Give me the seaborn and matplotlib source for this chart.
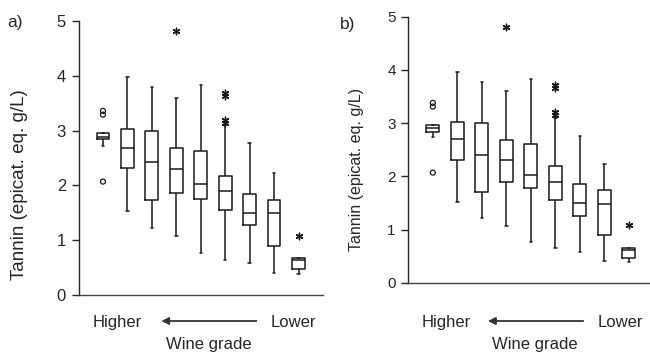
import numpy as np
import pandas as pd
import matplotlib
matplotlib.use('Agg')
import matplotlib.pyplot as plt
import seaborn as sns

# ==========================================
# DATA
# ==========================================
grades = [1, 2, 3, 4, 5, 6, 7, 8, 9]   # 1 = higher grade ... 9 = lower grade

# panel a) five-number summaries
a_low  = [2.72, 1.53, 1.22, 1.07, 0.77, 0.64, 0.59, 0.41, 0.39]
a_q1   = [2.84, 2.31, 1.73, 1.87, 1.76, 1.56, 1.27, 0.90, 0.48]
a_med  = [2.88, 2.69, 2.42, 2.30, 2.02, 1.89, 1.50, 1.49, 0.64]
a_q3   = [2.96, 3.03, 2.99, 2.69, 2.62, 2.18, 1.85, 1.73, 0.67]
a_high = [2.96, 3.97, 3.79, 3.59, 3.84, 3.10, 2.78, 2.23, 0.67]
a_circ_grade = [1, 1, 1]
a_circ_val   = [3.29, 3.36, 2.07]
a_star_grade = [4, 6, 6, 6, 6, 9]
a_star_val   = [4.81, 3.14, 3.19, 3.64, 3.69, 1.08]

# panel b) five-number summaries
b_low  = [2.73, 1.51, 1.21, 1.07, 0.76, 0.65, 0.58, 0.40, 0.38]
b_q1   = [2.84, 2.31, 1.71, 1.89, 1.78, 1.55, 1.26, 0.90, 0.46]
b_med  = [2.90, 2.70, 2.40, 2.30, 2.03, 1.90, 1.49, 1.48, 0.61]
b_q3   = [2.96, 3.03, 3.00, 2.68, 2.60, 2.19, 1.86, 1.74, 0.66]
b_high = [2.96, 3.96, 3.78, 3.60, 3.82, 3.10, 2.76, 2.23, 0.66]
b_circ_grade = [1, 1, 1]
b_circ_val   = [3.31, 3.38, 2.07]
b_star_grade = [4, 6, 6, 6, 6, 9]
b_star_val   = [4.81, 3.15, 3.21, 3.66, 3.72, 1.08]

# ==========================================
# STYLE
# ==========================================
sns.set_style('ticks')
plt.rcParams['font.family'] = ['Liberation Sans', 'DejaVu Sans']

W, H = 650, 355
fig = plt.figure(figsize=(6.5, 3.55), dpi=100)


def px(x, y):
    # pixel (from top-left) -> figure fraction
    return x / W, 1 - y / H


def draw_panel(ax, low, q1, med, q3, high, circ_g, circ_v, star_g, star_v, tick_fs):
    rows = []
    for g, lo, a, m, b, hi in zip(grades, low, q1, med, q3, high):
        for v in (lo, a, m, b, hi):
            rows.append({'grade': g, 'tannin': v})
    df = pd.DataFrame(rows)
    sns.boxplot(data=df, x='grade', y='tannin', order=grades, whis=(0, 100),
                fill=False, color='#1a1a1a', linewidth=1.1, width=0.52,
                capwidths=0.1, ax=ax)

    circ = pd.DataFrame({'pos': [grades.index(g) for g in circ_g], 'tannin': circ_v})
    star = pd.DataFrame({'pos': [grades.index(g) for g in star_g], 'tannin': star_v})
    sns.scatterplot(data=circ, x='pos', y='tannin', marker='o', s=13, color='none',
                    edgecolor='#1a1a1a', linewidth=0.9, ax=ax)
    sns.scatterplot(data=star, x='pos', y='tannin', marker=(6, 2, 0), s=22,
                    color='#1a1a1a', linewidth=1.0, ax=ax)

    ax.set_xlim(-1, 9)
    ax.set_ylim(0, 5)
    ax.set_yticks([0, 1, 2, 3, 4, 5])
    ax.set_xticks([])
    ax.tick_params(axis='y', direction='out', length=5, width=1, labelsize=tick_fs, pad=4)
    for s in ['top', 'right']:
        ax.spines[s].set_visible(False)
    ax.spines['left'].set_linewidth(1)
    ax.spines['bottom'].set_linewidth(1)
    ax.spines['bottom'].set_color('#444444')
    ax.set_xlabel('')
    ax.set_ylabel('')


# panel a
ax_a = fig.add_axes([78.5 / W, 1 - 295 / H, 244.5 / W, 274 / H])
draw_panel(ax_a, a_low, a_q1, a_med, a_q3, a_high,
           a_circ_grade, a_circ_val, a_star_grade, a_star_val, 12)

# panel b
ax_b = fig.add_axes([408.3 / W, 1 - 282.7 / H, 245 / W, 266 / H])
draw_panel(ax_b, b_low, b_q1, b_med, b_q3, b_high,
           b_circ_grade, b_circ_val, b_star_grade, b_star_val, 11)

# axis titles, panel letters, grade direction
fig.text(*px(20, 185), 'Tannin (epicat. eq. g/L)', rotation=90, ha='center', va='center', fontsize=13.5)
fig.text(*px(356, 169), 'Tannin (epicat. eq. g/L)', rotation=90, ha='center', va='center', fontsize=11.5)
fig.text(*px(15, 22), 'a)', ha='center', va='center', fontsize=12.5)
fig.text(*px(348, 24), 'b)', ha='center', va='center', fontsize=12.5)

for hx, lx, ax0, ax1, wx in [(117, 293.5, 161.7, 256.5, 209), (446.3, 620, 488.3, 583.3, 535)]:
    fig.text(*px(hx, 327), 'Higher', ha='center', va='baseline', fontsize=12)
    fig.text(*px(lx, 327), 'Lower', ha='center', va='baseline', fontsize=12)
    fig.text(*px(wx, 349), 'Wine grade', ha='center', va='baseline', fontsize=12)
    fig.add_artist(plt.annotate('', xy=px(ax0, 321), xytext=px(ax1, 321),
                                xycoords='figure fraction', textcoords='figure fraction',
                                arrowprops=dict(arrowstyle='-|>', lw=1, color='#333333',
                                                mutation_scale=11, shrinkA=0, shrinkB=0)))

plt.savefig('out.png', dpi=100)
plt.close()
